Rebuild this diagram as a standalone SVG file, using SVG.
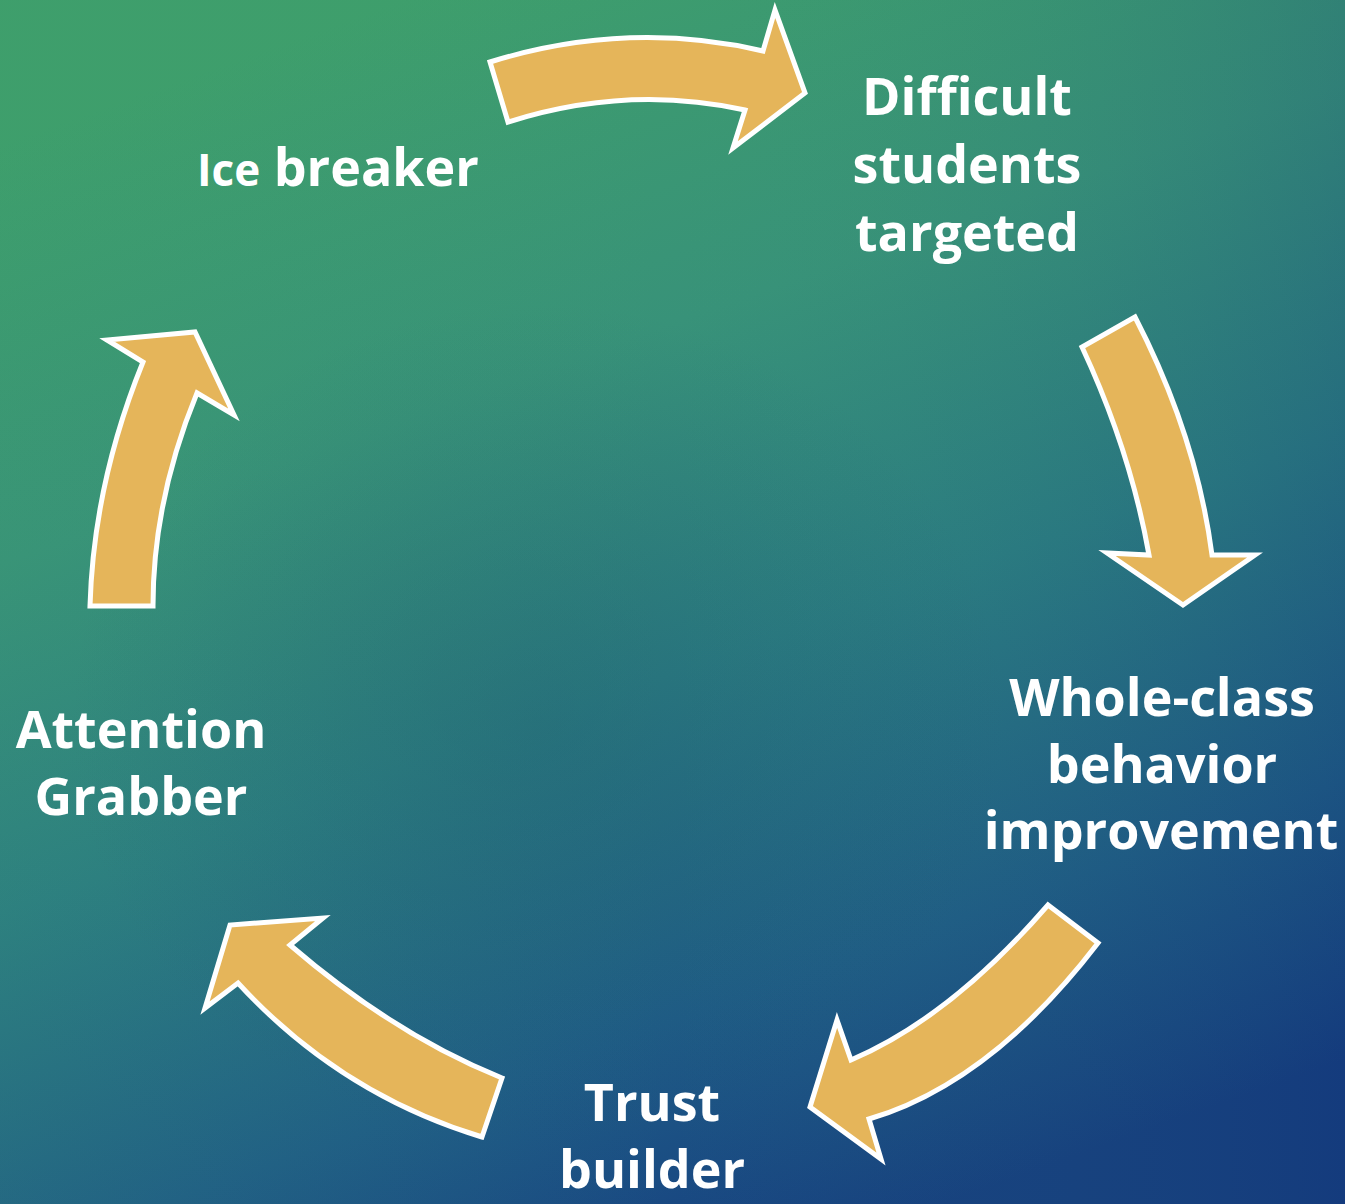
<svg xmlns="http://www.w3.org/2000/svg" width="1345" height="1204" viewBox="0 0 1345 1204">
  <defs>
    <linearGradient id="bg" x1="0.3" y1="0" x2="0.7" y2="1">
      <stop offset="0" stop-color="#3e9e6c"/>
      <stop offset="0.3" stop-color="#389279"/>
      <stop offset="0.55" stop-color="#2b7c82"/>
      <stop offset="0.8" stop-color="#1f5c86"/>
      <stop offset="1" stop-color="#163f80"/>
    </linearGradient>
    <linearGradient id="side" x1="0" y1="0" x2="1" y2="0">
      <stop offset="0" stop-color="#40a36a" stop-opacity="0.12"/>
      <stop offset="0.5" stop-color="#40a36a" stop-opacity="0"/>
      <stop offset="1" stop-color="#0c2a70" stop-opacity="0.18"/>
    </linearGradient>
    <radialGradient id="haze" cx="0.4" cy="0.6" r="0.35">
      <stop offset="0" stop-color="#1a4f66" stop-opacity="0.25"/>
      <stop offset="1" stop-color="#1a4f66" stop-opacity="0"/>
    </radialGradient>
    <style>
      .arrow { fill: #e5b55a; stroke: #ffffff; stroke-width: 5; stroke-linejoin: miter; }
      .label { fill: #ffffff; font-family: "Open Sans", "Liberation Sans", sans-serif; font-weight: bold; font-size: 52px; text-anchor: middle; }
    </style>
  </defs>
  <rect width="1345" height="1204" fill="url(#bg)"/>
  <rect width="1345" height="1204" fill="url(#side)"/>
  <rect width="1345" height="1204" fill="url(#haze)"/>

  <g id="connectors">
    <path id="arrow-1" class="arrow" d="M490,62 Q627.5,19.5 763,51 L775,10 L805,93 L733,148 L745,110 Q627.5,84 508,122 Z"/>
    <path id="arrow-2" class="arrow" d="M1135,317 Q1196.5,436 1212,555 L1255,555 L1183,605 L1107,553 L1149,555 Q1130.5,451 1082,347 Z"/>
    <path id="arrow-3" class="arrow" d="M1048,905 L1098,943 Q990.5,1083 869,1119 L881,1159 L810,1107 L837,1020 L851,1060 Q950.5,1017.5 1048,905 Z"/>
    <path id="arrow-4" class="arrow" d="M502,1078 Q394,1034.5 290,945 L323,918 L230,925 L205,1008 L238,983 Q340,1094 482,1137 Z"/>
    <path id="arrow-5" class="arrow" d="M90,606 L153,606 Q153,500 197,393 L234,415 L195,332 L107,340 L143,362 Q93.5,484 90,606 Z"/>
  </g>

  <g id="node-ice-breaker">
    <text class="label" x="197" y="186" style="text-anchor:start"><tspan font-size="44">Ice</tspan> breaker</text>
  </g>
  <g id="node-difficult-students">
    <text class="label" x="967" y="115">Difficult</text>
    <text class="label" x="967" y="183">students</text>
    <text class="label" x="967" y="251">targeted</text>
  </g>
  <g id="node-whole-class">
    <text class="label" x="1162" y="716">Whole-class</text>
    <text class="label" x="1162" y="783">behavior</text>
    <text class="label" x="1161" y="849" font-size="51">improvement</text>
  </g>
  <g id="node-trust-builder">
    <text class="label" x="652" y="1121">Trust</text>
    <text class="label" x="652" y="1188">builder</text>
  </g>
  <g id="node-attention-grabber">
    <text class="label" x="141" y="748">Attention</text>
    <text class="label" x="141" y="815">Grabber</text>
  </g>
</svg>
